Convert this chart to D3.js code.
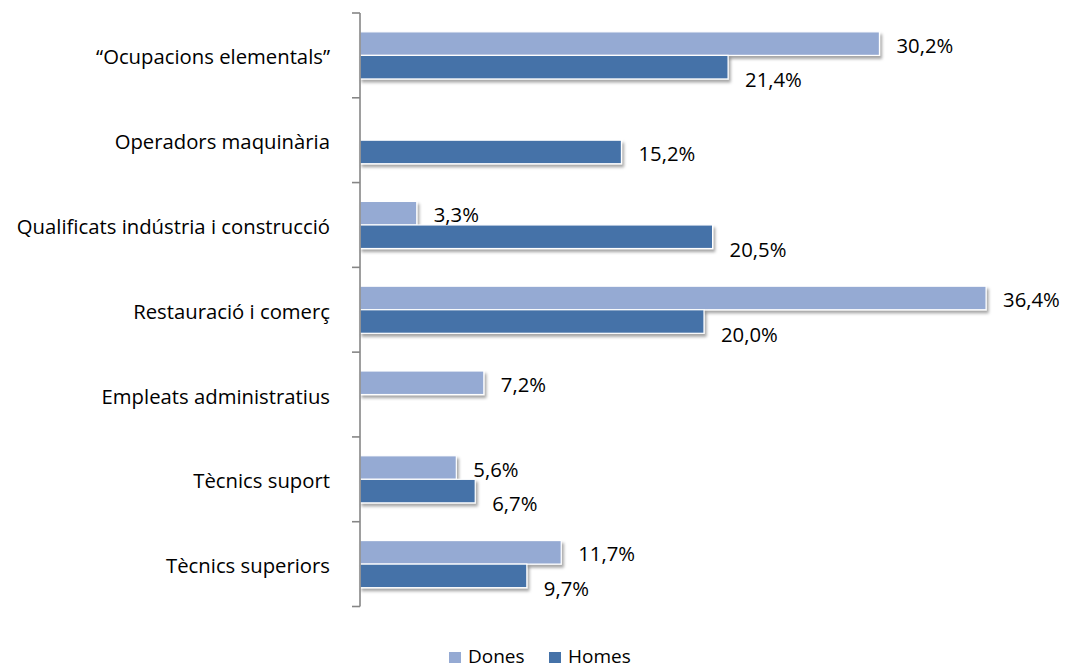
<!DOCTYPE html>
<html>
<head>
<meta charset="utf-8">
<script src="https://cdn.jsdelivr.net/npm/d3@7"></script>
<style>
  html, body { margin: 0; padding: 0; background: #fff; }
  svg { display: block; }
  text { font-family: "Open Sans", "Liberation Sans", sans-serif; fill: #000; }
</style>
</head>
<body>
<svg id="chart" width="1065" height="669"></svg>
<script>
const categories = [
  "“Ocupacions elementals”",
  "Operadors maquinària",
  "Qualificats indústria i construcció",
  "Restauració i comerç",
  "Empleats administratius",
  "Tècnics suport",
  "Tècnics superiors"
];
const seriesNames = ["Dones", "Homes"];
const dones = [30.2, null, 3.3, 36.4, 7.2, 5.6, 11.7];
const homes = [21.4, 15.2, 20.5, 20.0, null, 6.7, 9.7];
const seriesColors = ["#95AAD3", "#4572A8"];

const svg = d3.select("#chart");
const FS = "20.3px";

const x = d3.scaleLinear().domain([0, 40]).range([360, 360 + 40 * 17.2]);
const y = d3.scaleBand().domain(categories).range([13, 606.5]).paddingInner(0).paddingOuter(0);
const yi = d3.scaleBand().domain(seriesNames).range([0, y.bandwidth()]).paddingInner(0).paddingOuter(0.8);
const color = d3.scaleOrdinal().domain(seriesNames).range(seriesColors);

const defs = svg.append("defs");
const f = defs.append("filter").attr("id", "shadow").attr("x", "-5%").attr("y", "-30%").attr("width", "115%").attr("height", "190%");
f.append("feDropShadow").attr("dx", 2).attr("dy", 3).attr("stdDeviation", 1.8)
  .attr("flood-color", "#000").attr("flood-opacity", 0.35);

const rows = [];
categories.forEach((c, i) => {
  rows.push({ cat: c, s: "Dones", v: dones[i], other: homes[i] });
  rows.push({ cat: c, s: "Homes", v: homes[i], other: dones[i] });
});
const data = rows.filter(d => d.v != null);

// bars
svg.append("g").selectAll("rect").data(data).join("rect")
  .attr("x", x(0))
  .attr("y", d => y(d.cat) + yi(d.s))
  .attr("width", d => x(d.v) - x(0))
  .attr("height", yi.bandwidth())
  .attr("fill", d => color(d.s))
  .attr("stroke", "#fff")
  .attr("stroke-width", 1.2)
  .attr("filter", "url(#shadow)");

// axis
const axis = d3.axisLeft(y).tickSize(0).tickFormat("");
const gAxis = svg.append("g").attr("transform", "translate(360,0)").call(axis);
gAxis.select(".domain").remove();
gAxis.append("line").attr("x1", 0).attr("x2", 0).attr("y1", 13).attr("y2", 606.5)
  .attr("stroke", "#868686").attr("stroke-width", 1.6);
const tickYs = categories.map(c => y(c)).concat([y(categories[categories.length - 1]) + y.bandwidth()]);
gAxis.selectAll("line.tk").data(tickYs).join("line").attr("class", "tk")
  .attr("x1", -8).attr("x2", 0).attr("y1", d => d).attr("y2", d => d)
  .attr("stroke", "#868686").attr("stroke-width", 1.6);

// category labels
svg.append("g").selectAll("text").data(categories).join("text")
  .attr("x", 330)
  .attr("y", d => y(d) + y.bandwidth() / 2 + 1)
  .attr("text-anchor", "end")
  .attr("dominant-baseline", "central")
  .style("font-size", FS)
  .text(d => d);

// value labels
const fmt = v => v.toFixed(1).replace(".", ",") + "%";
svg.append("g").selectAll("text").data(data).join("text")
  .attr("x", d => x(d.v) + 17)
  .attr("y", d => y(d.cat) + yi(d.s) + yi.bandwidth() / 2 + 1 + (d.s === "Homes" && d.other != null ? 11 : 0))
  .attr("dominant-baseline", "central")
  .style("font-size", FS)
  .text(d => fmt(d.v));

// legend
const legend = svg.append("g");
const legX = [449, 549];
seriesNames.forEach((s, i) => {
  legend.append("rect").attr("x", legX[i]).attr("y", 652).attr("width", 12).attr("height", 11)
    .attr("fill", color(s));
  legend.append("text").attr("x", legX[i] + 19).attr("y", 663)
    .style("font-size", "19px").text(s);
});
</script>
</body>
</html>
